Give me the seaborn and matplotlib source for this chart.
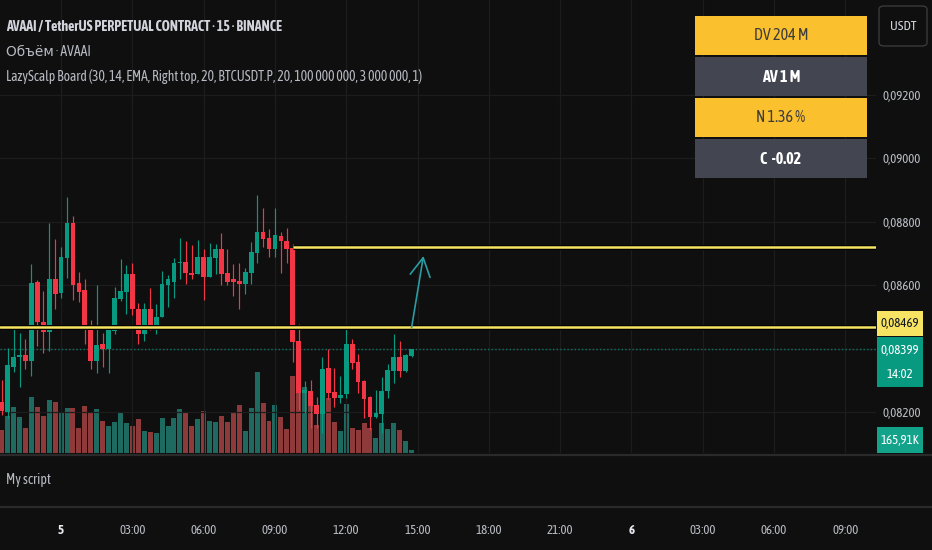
import numpy as np
import pandas as pd
import seaborn as sns
import matplotlib
matplotlib.use("Agg")
import matplotlib.pyplot as plt
from matplotlib import font_manager
from matplotlib.patches import Rectangle, FancyBboxPatch
from matplotlib.lines import Line2D
import matplotlib.patheffects as pe

# 15 minute candles, AVAAI/USDT perp
START = "2025-01-04 21:30"
opens = [0.08232, 0.08203, 0.08342, 0.08374, 0.08381, 0.08362, 0.08611, 0.08486, 0.08452, 0.08619,
         0.08577, 0.08688, 0.08796, 0.08608, 0.08585, 0.08475, 0.08362, 0.08417, 0.08400, 0.08457,
         0.08556, 0.08581, 0.08635, 0.08526, 0.08447, 0.08526, 0.08465, 0.08502, 0.08600, 0.08612,
         0.08670, 0.08674, 0.08639, 0.08635, 0.08690, 0.08628, 0.08688, 0.08714, 0.08638, 0.08619,
         0.08615, 0.08604, 0.08640, 0.08702, 0.08769, 0.08749, 0.08714, 0.08756, 0.08741, 0.08717,
         0.08426, 0.08260, 0.08269, 0.08224, 0.08196, 0.08341, 0.08264, 0.08245, 0.08257, 0.08416,
         0.08360, 0.08299, 0.08248, 0.08187, 0.08194, 0.08269, 0.08331, 0.08374, 0.08331, 0.08378]
highs = [0.08302, 0.08402, 0.08465, 0.08451, 0.08431, 0.08668, 0.08617, 0.08584, 0.08796, 0.08745,
         0.08721, 0.08878, 0.08819, 0.08643, 0.08619, 0.08491, 0.08601, 0.08451, 0.08467, 0.08596,
         0.08682, 0.08664, 0.08671, 0.08545, 0.08545, 0.08592, 0.08541, 0.08647, 0.08632, 0.08686,
         0.08749, 0.08740, 0.08726, 0.08744, 0.08714, 0.08733, 0.08730, 0.08764, 0.08714, 0.08667,
         0.08670, 0.08654, 0.08736, 0.08885, 0.08843, 0.08777, 0.08843, 0.08769, 0.08780, 0.08730,
         0.08478, 0.08299, 0.08302, 0.08249, 0.08374, 0.08400, 0.08339, 0.08315, 0.08465, 0.08431,
         0.08384, 0.08302, 0.08252, 0.08271, 0.08313, 0.08353, 0.08447, 0.08425, 0.08384, 0.08399]
lows = [0.08192, 0.08182, 0.08326, 0.08279, 0.08337, 0.08315, 0.08410, 0.08386, 0.08395, 0.08526,
        0.08562, 0.08625, 0.08554, 0.08549, 0.08417, 0.08336, 0.08323, 0.08342, 0.08323, 0.08447,
        0.08552, 0.08510, 0.08507, 0.08416, 0.08424, 0.08460, 0.08447, 0.08500, 0.08533, 0.08562,
        0.08621, 0.08605, 0.08619, 0.08635, 0.08554, 0.08628, 0.08635, 0.08600, 0.08602, 0.08568,
        0.08526, 0.08572, 0.08605, 0.08672, 0.08722, 0.08691, 0.08691, 0.08640, 0.08672, 0.08358,
        0.08208, 0.08197, 0.08152, 0.08150, 0.08134, 0.08241, 0.08218, 0.08229, 0.08245, 0.08336,
        0.08260, 0.08182, 0.08145, 0.08182, 0.08134, 0.08245, 0.08292, 0.08311, 0.08329, 0.08374]
closes = [0.08205, 0.08350, 0.08374, 0.08380, 0.08362, 0.08608, 0.08484, 0.08452, 0.08619, 0.08573,
          0.08690, 0.08796, 0.08602, 0.08581, 0.08476, 0.08362, 0.08412, 0.08400, 0.08463, 0.08561,
          0.08584, 0.08635, 0.08526, 0.08447, 0.08526, 0.08467, 0.08502, 0.08605, 0.08619, 0.08670,
          0.08674, 0.08639, 0.08634, 0.08690, 0.08628, 0.08690, 0.08714, 0.08635, 0.08612, 0.08612,
          0.08605, 0.08643, 0.08706, 0.08769, 0.08745, 0.08714, 0.08760, 0.08741, 0.08714, 0.08421,
          0.08260, 0.08271, 0.08222, 0.08194, 0.08337, 0.08260, 0.08245, 0.08255, 0.08416, 0.08355,
          0.08295, 0.08241, 0.08187, 0.08197, 0.08268, 0.08334, 0.08374, 0.08332, 0.08381, 0.08399]
# volume in thousands
volumes = [1247, 2053, 2530, 1980, 1375, 3080, 2530, 2053, 2933, 2805,
           2255, 2456, 2456, 1375, 2585, 2200, 2401, 1778, 1503, 1705,
           2200, 1650, 1503, 1851, 1228, 1155, 1100, 1925, 1503, 1925,
           2401, 2200, 1503, 1851, 2328, 1778, 1705, 2053, 1705, 2200,
           2658, 1228, 2456, 4454, 2731, 1778, 2658, 1980, 1301, 4234,
           4124, 3629, 2841, 1558, 2200, 3024, 1705, 1191, 2694, 1375,
           1247, 1668, 1375, 825, 1668, 1320, 1668, 1247, 642, 165.91]

level_high = 0.08720
level_high_from = "2025-01-05 09:45"
level_low = 0.08469
last_price = 0.08399
bar_countdown = "14:02"
arrow_start = ("2025-01-05 14:45", 0.08467)
arrow_end = ("2025-01-05 15:15", 0.08693)

title = "AVAAI / TetherUS PERPETUAL CONTRACT · 15 · BINANCE"
legend_lines = ["Объём · AVAAI",
                "LazyScalp Board (30, 14, EMA, Right top, 20, BTCUSDT.P, 20, 100 000 000, 3 000 000, 1)"]
board_rows = ["DV 204 M", "AV 1 M", "N 1.36 %", "C  -0.02"]
price_ticks = [0.082, 0.084, 0.086, 0.088, 0.090, 0.092]

# colours
BG = "#0f0f0f"
GRID = "#1d1d1d"
TXT = "#d1d4dc"
AX_TXT = "#b8bbc3"
UP = "#089981"
DOWN = "#f23645"
VOL_UP = "#1f6a60"
VOL_DOWN = "#8e3a3b"
YELLOW = "#f7e463"
BOARD_Y = "#fbc02d"
BOARD_G = "#434651"

W, H = 932, 550
PX_PER_BAR = 5.94

installed = {f.name for f in font_manager.fontManager.ttflist}
FAMILY = next((f for f in ["Asap Condensed", "Archivo Narrow", "Roboto"] if f in installed), "DejaVu Sans")

sns.set_theme(style="dark", rc={
    "figure.facecolor": BG, "axes.facecolor": BG, "savefig.facecolor": BG,
    "axes.edgecolor": BG, "grid.color": GRID, "text.color": TXT,
    "xtick.color": AX_TXT, "ytick.color": AX_TXT,
})
plt.rcParams["font.family"] = [FAMILY, "DejaVu Sans"]

t0 = pd.Timestamp(START)
step = pd.Timedelta("15min")
n = len(opens)
idx = np.arange(n)
o, h, l, c = map(np.asarray, (opens, highs, lows, closes))
up = c >= o

df = pd.DataFrame({"i": idx, "vol": volumes, "dir": np.where(up, "up", "down")})


def tpos(ts):
    return (pd.Timestamp(ts) - t0) / step


def fmt_price(p):
    return f"{p:.5f}".replace(".", ",")


fig = plt.figure(figsize=(W / 100, H / 100), dpi=100)
main_rect = [0, (H - 453) / H, 876 / W, 453 / H]
ax_v = fig.add_axes(main_rect)
ax = fig.add_axes(main_rect, sharex=ax_v)
ax.set_facecolor("none")

# volume overlay
sns.barplot(data=df, x="i", y="vol", hue="dir", palette={"up": VOL_UP, "down": VOL_DOWN},
            native_scale=True, width=0.84, dodge=False, legend=False, saturation=1,
            errorbar=None, linewidth=0, ax=ax_v)
ax_v.set_ylim(0, max(volumes) / 0.179)
ax_v.set_xlabel("")
ax_v.set_ylabel("")
ax_v.tick_params(left=False, bottom=False, labelleft=False, labelbottom=False)

# candles
col = np.where(up, UP, DOWN)
ax.vlines(idx, l, h, colors=col, lw=0.85, zorder=3)
body_lo = np.minimum(o, c)
body_h = np.maximum(np.abs(c - o), 0.000035)
ax.bar(idx, body_h, bottom=body_lo, width=0.8, color=col, lw=0, zorder=4)

xl = -1.7 / PX_PER_BAR
ax.set_xlim(xl, xl + 876 / PX_PER_BAR)
ax.set_ylim(0.092 - (453 - 95) / 31750, 0.092 + 95 / 31750)

# time ticks every 3 hours
tick_times = pd.date_range("2025-01-05 00:00", "2025-01-06 09:00", freq="3h")
tick_pos = [tpos(t) for t in tick_times]
tick_lab = [str(t.day) if t.hour == 0 else t.strftime("%H:%M") for t in tick_times]
ax.set_xticks(tick_pos)
ax.set_yticks(price_ticks)
# the scale label of the last price covers the tick next to it
ax.set_yticklabels(["" if abs(p - last_price) < 0.0003 else fmt_price(p) for p in price_ticks])
ax.yaxis.tick_right()
ax.tick_params(axis="y", length=0, pad=5, labelsize=9.3, colors=AX_TXT)
ax.tick_params(axis="x", length=0, labelbottom=False)
ax.grid(True, color=GRID, lw=0.9)
ax.set_axisbelow(True)
for a in (ax, ax_v):
    for s in a.spines.values():
        s.set_visible(False)

# key levels
stroke = [pe.Stroke(linewidth=3.6, foreground="#000000"), pe.Normal()]
ax.hlines(level_high, tpos(level_high_from), ax.get_xlim()[1], color=YELLOW, lw=1.8,
          zorder=5, path_effects=stroke)
ax.axhline(level_low, color=YELLOW, lw=1.8, zorder=5, path_effects=stroke)
ax.axhline(last_price, color="#0d7366", lw=1.0, ls=(0, (1, 1.6)), zorder=2)
ax.annotate("", xy=(tpos(arrow_end[0]), arrow_end[1]), xytext=(tpos(arrow_start[0]), arrow_start[1]),
            arrowprops=dict(arrowstyle="->,head_length=1.1,head_width=0.6", color="#2b9ca3",
                            lw=1.2, shrinkA=0, shrinkB=0), zorder=6)

# empty indicator pane + time axis
ax_s = fig.add_axes([0, (H - 506) / H, 876 / W, 50 / H])
ax_s.set_xlim(ax.get_xlim())
ax_s.set_yticks([])
ax_s.set_xticks(tick_pos, tick_lab)
ax_s.tick_params(axis="x", length=0, pad=13, labelsize=9.3, colors=AX_TXT)
for s in ax_s.spines.values():
    s.set_visible(False)
for t, lab in zip(tick_times, ax_s.get_xticklabels()):
    if t.hour == 0:
        lab.set_color("#e6e8ee")
        lab.set_fontweight("bold")


def fx(x):
    return x / W


def fy(y):
    return 1 - y / H


def px_rect(x0, y0, x1, y1, color, **kw):
    fig.add_artist(Rectangle((fx(x0), fy(y1)), (x1 - x0) / W, (y1 - y0) / H,
                             transform=fig.transFigure, facecolor=color, lw=0, **kw))


def px_text(x, y, s, **kw):
    fig.text(fx(x), fy(y), s, va="center", **kw)


# pane separators
for y in (454.5, 507):
    fig.add_artist(Line2D([0, 1], [fy(y), fy(y)], transform=fig.transFigure, color="#2a2a2a", lw=1.6))

# legend texts
px_text(6, 27, title, color=TXT, fontsize=10, fontweight="bold")
px_text(6, 52, legend_lines[0], color=AX_TXT, fontsize=9.9)
px_text(6, 77, legend_lines[1], color=AX_TXT, fontsize=9.8)
px_text(6, 480, "My script", color=AX_TXT, fontsize=10)

# LazyScalp board
row_tops = [16, 57, 98, 139]
for k, (top, txt) in enumerate(zip(row_tops, board_rows)):
    yellow = k % 2 == 0
    px_rect(695, top, 867, top + 39, BOARD_Y if yellow else BOARD_G)
    px_text(781, top + 19.5, txt, ha="center", fontsize=11.5,
            color="#3c3c3c" if yellow else "#ffffff",
            fontweight="normal" if yellow else "bold")

# currency button
fig.add_artist(FancyBboxPatch((fx(879), fy(46)), 48 / W, 40 / H, boxstyle="round,pad=0,rounding_size=0.006",
                              transform=fig.transFigure, facecolor=BG, edgecolor="#3a3a3a", lw=1))
px_text(903, 26, "USDT", ha="center", color=TXT, fontsize=9.5)

# price scale labels
px_rect(877, 311, 923, 336, YELLOW)
px_text(900, 323.5, fmt_price(level_low), ha="center", color="#131722", fontsize=9.3)
px_rect(877, 337, 923, 387, UP)
px_text(900, 350, fmt_price(last_price), ha="center", color="#ffffff", fontsize=9.3)
px_text(900, 374, bar_countdown, ha="center", color="#ffffff", fontsize=9.3)
px_rect(877, 427, 923, 453, "#13a38b")
px_text(900, 440, f"{volumes[-1]:.2f}".replace(".", ",") + "K", ha="center", color="#ffffff", fontsize=9.3)

fig.savefig("out.png", dpi=100, facecolor=BG)
